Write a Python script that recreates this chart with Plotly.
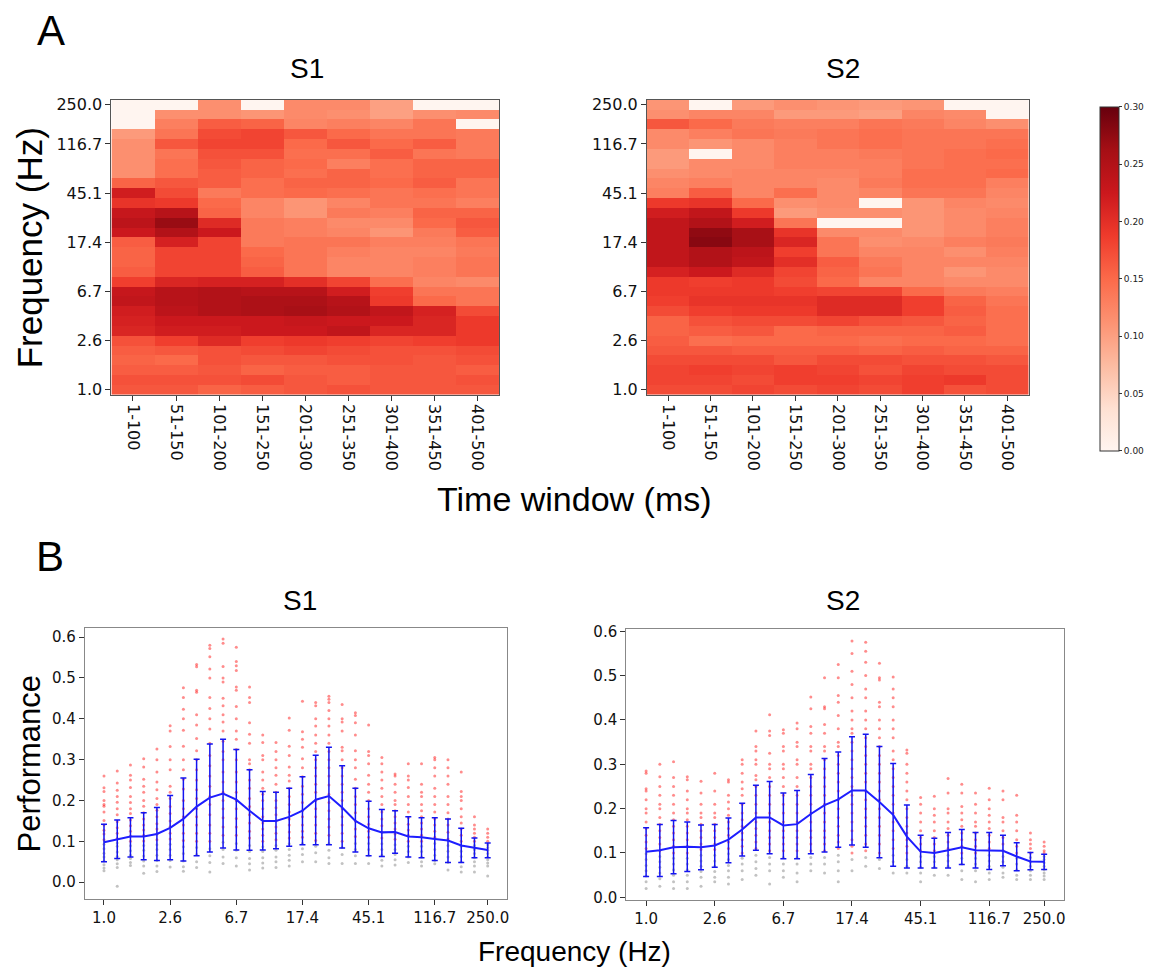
import plotly.graph_objects as go

W, H = 1155, 979

freq_labels = ["1.0", "2.6", "6.7", "17.4", "45.1", "116.7", "250.0"]
freq_tick_idx = [0, 5, 10, 15, 20, 25, 29]
time_windows = ["1-100", "51-150", "101-200", "151-250", "201-300",
                "251-350", "301-400", "351-450", "401-500"]

# Heatmap values, rows listed from the top (250 Hz) down to 1 Hz
s1_heat = [
    [0.000, 0.000, 0.115, 0.000, 0.120, 0.120, 0.100, 0.000, 0.000],
    [0.000, 0.115, 0.115, 0.110, 0.120, 0.115, 0.100, 0.115, 0.120],
    [0.000, 0.130, 0.160, 0.155, 0.125, 0.130, 0.125, 0.140, 0.000],
    [0.105, 0.140, 0.175, 0.180, 0.165, 0.150, 0.140, 0.140, 0.135],
    [0.115, 0.165, 0.180, 0.180, 0.150, 0.165, 0.150, 0.160, 0.135],
    [0.115, 0.140, 0.170, 0.170, 0.145, 0.145, 0.160, 0.140, 0.135],
    [0.115, 0.145, 0.165, 0.155, 0.150, 0.130, 0.145, 0.155, 0.155],
    [0.115, 0.145, 0.160, 0.155, 0.145, 0.155, 0.145, 0.155, 0.155],
    [0.155, 0.165, 0.160, 0.145, 0.155, 0.155, 0.150, 0.160, 0.140],
    [0.220, 0.175, 0.135, 0.145, 0.150, 0.145, 0.140, 0.145, 0.140],
    [0.195, 0.190, 0.150, 0.125, 0.110, 0.125, 0.140, 0.140, 0.130],
    [0.230, 0.245, 0.155, 0.125, 0.110, 0.135, 0.130, 0.155, 0.155],
    [0.240, 0.270, 0.205, 0.135, 0.130, 0.120, 0.120, 0.150, 0.165],
    [0.225, 0.250, 0.225, 0.135, 0.130, 0.125, 0.110, 0.135, 0.160],
    [0.160, 0.215, 0.180, 0.135, 0.140, 0.140, 0.130, 0.130, 0.140],
    [0.155, 0.180, 0.180, 0.150, 0.140, 0.130, 0.125, 0.125, 0.135],
    [0.155, 0.180, 0.180, 0.155, 0.140, 0.125, 0.125, 0.130, 0.140],
    [0.160, 0.180, 0.180, 0.160, 0.140, 0.125, 0.125, 0.130, 0.140],
    [0.185, 0.210, 0.215, 0.215, 0.200, 0.180, 0.145, 0.125, 0.120],
    [0.230, 0.245, 0.250, 0.245, 0.245, 0.220, 0.185, 0.140, 0.140],
    [0.235, 0.245, 0.250, 0.255, 0.255, 0.245, 0.190, 0.150, 0.140],
    [0.220, 0.240, 0.250, 0.255, 0.260, 0.250, 0.235, 0.215, 0.175],
    [0.215, 0.225, 0.225, 0.225, 0.230, 0.225, 0.225, 0.210, 0.190],
    [0.210, 0.220, 0.220, 0.225, 0.225, 0.235, 0.210, 0.210, 0.190],
    [0.170, 0.185, 0.205, 0.185, 0.190, 0.185, 0.180, 0.185, 0.190],
    [0.160, 0.165, 0.170, 0.175, 0.180, 0.175, 0.170, 0.170, 0.175],
    [0.155, 0.150, 0.170, 0.165, 0.165, 0.170, 0.170, 0.165, 0.170],
    [0.160, 0.160, 0.165, 0.155, 0.160, 0.160, 0.165, 0.165, 0.160],
    [0.170, 0.170, 0.170, 0.175, 0.165, 0.160, 0.165, 0.165, 0.170],
    [0.165, 0.165, 0.155, 0.160, 0.165, 0.170, 0.165, 0.165, 0.165],
]

s2_heat = [
    [0.110, 0.000, 0.105, 0.115, 0.110, 0.105, 0.110, 0.000, 0.000],
    [0.115, 0.125, 0.125, 0.105, 0.105, 0.100, 0.125, 0.120, 0.000],
    [0.165, 0.150, 0.135, 0.130, 0.130, 0.140, 0.135, 0.125, 0.115],
    [0.120, 0.130, 0.140, 0.135, 0.140, 0.145, 0.140, 0.140, 0.140],
    [0.120, 0.110, 0.120, 0.130, 0.140, 0.145, 0.140, 0.140, 0.145],
    [0.105, 0.000, 0.120, 0.130, 0.130, 0.135, 0.140, 0.145, 0.150],
    [0.105, 0.120, 0.120, 0.130, 0.130, 0.130, 0.140, 0.145, 0.145],
    [0.115, 0.120, 0.125, 0.125, 0.125, 0.130, 0.145, 0.145, 0.150],
    [0.125, 0.130, 0.125, 0.125, 0.120, 0.135, 0.145, 0.145, 0.130],
    [0.130, 0.160, 0.125, 0.145, 0.120, 0.125, 0.140, 0.140, 0.125],
    [0.190, 0.195, 0.150, 0.115, 0.120, 0.000, 0.110, 0.125, 0.120],
    [0.220, 0.235, 0.190, 0.105, 0.115, 0.115, 0.110, 0.120, 0.125],
    [0.235, 0.250, 0.220, 0.140, 0.000, 0.000, 0.110, 0.120, 0.130],
    [0.235, 0.275, 0.260, 0.195, 0.120, 0.120, 0.110, 0.120, 0.130],
    [0.235, 0.280, 0.260, 0.210, 0.140, 0.115, 0.120, 0.130, 0.135],
    [0.235, 0.250, 0.240, 0.185, 0.140, 0.125, 0.125, 0.115, 0.130],
    [0.235, 0.250, 0.235, 0.200, 0.160, 0.135, 0.125, 0.125, 0.125],
    [0.215, 0.225, 0.205, 0.180, 0.155, 0.140, 0.125, 0.110, 0.120],
    [0.190, 0.185, 0.190, 0.175, 0.150, 0.125, 0.125, 0.120, 0.120],
    [0.190, 0.190, 0.190, 0.185, 0.180, 0.180, 0.150, 0.135, 0.130],
    [0.185, 0.195, 0.195, 0.195, 0.205, 0.205, 0.185, 0.155, 0.140],
    [0.175, 0.185, 0.190, 0.190, 0.205, 0.205, 0.185, 0.160, 0.145],
    [0.155, 0.170, 0.175, 0.175, 0.180, 0.170, 0.165, 0.155, 0.145],
    [0.155, 0.160, 0.165, 0.150, 0.155, 0.155, 0.155, 0.160, 0.145],
    [0.160, 0.145, 0.150, 0.150, 0.150, 0.145, 0.150, 0.150, 0.145],
    [0.165, 0.165, 0.160, 0.160, 0.160, 0.155, 0.160, 0.155, 0.155],
    [0.175, 0.175, 0.175, 0.165, 0.175, 0.175, 0.170, 0.170, 0.165],
    [0.180, 0.185, 0.180, 0.185, 0.180, 0.170, 0.180, 0.175, 0.175],
    [0.180, 0.180, 0.175, 0.185, 0.185, 0.180, 0.185, 0.190, 0.175],
    [0.175, 0.175, 0.180, 0.175, 0.180, 0.175, 0.185, 0.170, 0.175],
]

# Panel B: mean performance per frequency bin and error-bar ends
s1_mean = [0.098, 0.105, 0.112, 0.112, 0.118, 0.133, 0.155, 0.185, 0.207, 0.217,
           0.202, 0.175, 0.150, 0.150, 0.160, 0.175, 0.202, 0.211, 0.183, 0.150,
           0.132, 0.122, 0.123, 0.112, 0.110, 0.106, 0.102, 0.090, 0.084, 0.079]
s1_hi = [0.142, 0.152, 0.158, 0.170, 0.183, 0.212, 0.255, 0.301, 0.338, 0.350,
         0.325, 0.275, 0.222, 0.220, 0.230, 0.258, 0.311, 0.330, 0.285, 0.230,
         0.198, 0.178, 0.175, 0.160, 0.158, 0.158, 0.155, 0.132, 0.108, 0.096]
s1_lo = [0.050, 0.058, 0.062, 0.055, 0.053, 0.055, 0.052, 0.065, 0.074, 0.084,
         0.079, 0.078, 0.079, 0.082, 0.088, 0.092, 0.092, 0.092, 0.084, 0.074,
         0.065, 0.063, 0.071, 0.062, 0.060, 0.053, 0.048, 0.048, 0.060, 0.060]

s2_mean = [0.103, 0.106, 0.113, 0.114, 0.113, 0.117, 0.130, 0.153, 0.180, 0.180,
           0.162, 0.165, 0.188, 0.208, 0.221, 0.241, 0.241, 0.215, 0.186, 0.137,
           0.103, 0.100, 0.106, 0.113, 0.106, 0.105, 0.105, 0.092, 0.081, 0.080]
s2_hi = [0.157, 0.164, 0.173, 0.170, 0.163, 0.164, 0.179, 0.212, 0.253, 0.261,
         0.235, 0.241, 0.277, 0.313, 0.328, 0.362, 0.368, 0.340, 0.302, 0.208,
         0.140, 0.133, 0.146, 0.153, 0.146, 0.146, 0.140, 0.123, 0.101, 0.097]
s2_lo = [0.047, 0.047, 0.053, 0.058, 0.062, 0.068, 0.078, 0.093, 0.106, 0.098,
         0.087, 0.087, 0.098, 0.102, 0.113, 0.118, 0.113, 0.089, 0.070, 0.066,
         0.066, 0.066, 0.066, 0.074, 0.066, 0.063, 0.071, 0.060, 0.062, 0.063]

# Individual performance values (dots) per frequency bin
s1_dots = [
    [0.26, 0.231, 0.222, 0.2, 0.19, 0.186, 0.172, 0.151, 0.14, 0.127, 0.118, 0.104, 0.093, 0.082, 0.071, 0.062, 0.052, 0.043, 0.035, 0.028],
    [0.272, 0.243, 0.225, 0.21, 0.196, 0.18, 0.165, 0.148, 0.133, 0.12, 0.107, 0.096, 0.088, 0.074, 0.063, 0.055, 0.045, 0.036, -0.01],
    [0.287, 0.262, 0.25, 0.232, 0.21, 0.195, 0.18, 0.168, 0.152, 0.138, 0.125, 0.113, 0.1, 0.089, 0.077, 0.066, 0.058, 0.048, 0.041],
    [0.302, 0.282, 0.252, 0.235, 0.22, 0.2, 0.186, 0.17, 0.155, 0.14, 0.128, 0.115, 0.101, 0.09, 0.078, 0.064, 0.052, 0.04, 0.022],
    [0.326, 0.3, 0.27, 0.245, 0.226, 0.205, 0.19, 0.176, 0.16, 0.143, 0.13, 0.118, 0.104, 0.092, 0.08, 0.066, 0.053, 0.04, 0.026],
    [0.383, 0.37, 0.332, 0.3, 0.275, 0.235, 0.22, 0.205, 0.185, 0.168, 0.15, 0.136, 0.12, 0.106, 0.093, 0.08, 0.066, 0.053, 0.037],
    [0.476, 0.452, 0.423, 0.4, 0.372, 0.333, 0.3, 0.275, 0.252, 0.228, 0.2, 0.18, 0.16, 0.14, 0.12, 0.102, 0.087, 0.07, 0.052, 0.038, 0.027],
    [0.533, 0.527, 0.47, 0.465, 0.41, 0.385, 0.352, 0.322, 0.3, 0.275, 0.25, 0.226, 0.205, 0.18, 0.16, 0.14, 0.12, 0.1, 0.085, 0.068, 0.05, 0.036],
    [0.58, 0.572, 0.552, 0.522, 0.5, 0.452, 0.425, 0.4, 0.375, 0.34, 0.31, 0.285, 0.26, 0.235, 0.21, 0.19, 0.165, 0.14, 0.12, 0.1, 0.082, 0.065, 0.048, 0.025],
    [0.595, 0.585, 0.528, 0.5, 0.49, 0.45, 0.432, 0.41, 0.392, 0.37, 0.345, 0.32, 0.3, 0.27, 0.245, 0.22, 0.2, 0.18, 0.158, 0.135, 0.115, 0.098, 0.08, 0.062, 0.046],
    [0.575, 0.54, 0.53, 0.518, 0.478, 0.47, 0.43, 0.4, 0.37, 0.35, 0.325, 0.3, 0.27, 0.245, 0.22, 0.2, 0.18, 0.156, 0.135, 0.115, 0.095, 0.078, 0.06, 0.04],
    [0.478, 0.452, 0.44, 0.39, 0.362, 0.34, 0.3, 0.29, 0.275, 0.25, 0.23, 0.205, 0.185, 0.165, 0.145, 0.125, 0.108, 0.09, 0.075, 0.058, 0.045, 0.03],
    [0.36, 0.342, 0.31, 0.3, 0.27, 0.25, 0.23, 0.215, 0.2, 0.18, 0.16, 0.145, 0.13, 0.115, 0.1, 0.087, 0.075, 0.06, 0.047, 0.035],
    [0.342, 0.32, 0.3, 0.28, 0.262, 0.24, 0.22, 0.2, 0.182, 0.165, 0.15, 0.135, 0.12, 0.104, 0.09, 0.078, 0.062, 0.05, 0.036],
    [0.402, 0.372, 0.333, 0.31, 0.282, 0.262, 0.248, 0.23, 0.21, 0.19, 0.172, 0.155, 0.14, 0.123, 0.108, 0.094, 0.08, 0.066, 0.054, 0.04],
    [0.443, 0.368, 0.35, 0.33, 0.302, 0.28, 0.258, 0.235, 0.215, 0.195, 0.175, 0.16, 0.14, 0.125, 0.11, 0.095, 0.082, 0.068, 0.05],
    [0.44, 0.432, 0.4, 0.382, 0.36, 0.34, 0.32, 0.3, 0.28, 0.26, 0.24, 0.22, 0.2, 0.18, 0.16, 0.14, 0.12, 0.102, 0.088, 0.072, 0.05],
    [0.455, 0.448, 0.44, 0.42, 0.4, 0.382, 0.36, 0.34, 0.32, 0.3, 0.28, 0.26, 0.238, 0.215, 0.195, 0.175, 0.155, 0.135, 0.115, 0.095, 0.078, 0.06, 0.046],
    [0.435, 0.4, 0.392, 0.37, 0.33, 0.322, 0.3, 0.28, 0.26, 0.24, 0.22, 0.2, 0.18, 0.16, 0.14, 0.12, 0.1, 0.085, 0.068, 0.046],
    [0.415, 0.408, 0.39, 0.36, 0.322, 0.3, 0.28, 0.252, 0.23, 0.21, 0.19, 0.17, 0.15, 0.13, 0.112, 0.095, 0.08, 0.065, 0.046],
    [0.385, 0.32, 0.31, 0.29, 0.262, 0.24, 0.22, 0.2, 0.18, 0.16, 0.142, 0.125, 0.11, 0.095, 0.08, 0.065, 0.046],
    [0.305, 0.29, 0.27, 0.25, 0.23, 0.21, 0.19, 0.172, 0.155, 0.138, 0.122, 0.108, 0.094, 0.08, 0.066, 0.054, 0.04],
    [0.265, 0.26, 0.24, 0.22, 0.2, 0.19, 0.175, 0.16, 0.145, 0.13, 0.118, 0.105, 0.092, 0.08, 0.068, 0.055, 0.042],
    [0.29, 0.26, 0.25, 0.232, 0.21, 0.19, 0.172, 0.158, 0.142, 0.128, 0.115, 0.1, 0.088, 0.075, 0.062, 0.048],
    [0.29, 0.24, 0.22, 0.21, 0.19, 0.175, 0.16, 0.145, 0.13, 0.115, 0.1, 0.088, 0.075, 0.062, 0.05, 0.04],
    [0.305, 0.3, 0.28, 0.26, 0.23, 0.21, 0.19, 0.172, 0.155, 0.14, 0.125, 0.11, 0.095, 0.08, 0.066, 0.053, 0.045],
    [0.3, 0.28, 0.26, 0.24, 0.21, 0.19, 0.17, 0.155, 0.14, 0.122, 0.106, 0.09, 0.076, 0.062, 0.048, 0.03],
    [0.27, 0.222, 0.21, 0.2, 0.18, 0.16, 0.145, 0.13, 0.115, 0.1, 0.088, 0.076, 0.063, 0.05, 0.038, 0.025],
    [0.16, 0.14, 0.13, 0.12, 0.11, 0.1, 0.09, 0.08, 0.07, 0.06, 0.05, 0.04, 0.025],
    [0.13, 0.12, 0.11, 0.1, 0.092, 0.085, 0.078, 0.07, 0.062, 0.055, 0.047, 0.04, 0.015],
]

s2_dots = [
    [0.285, 0.28, 0.245, 0.24, 0.22, 0.2, 0.19, 0.17, 0.155, 0.14, 0.125, 0.11, 0.098, 0.085, 0.072, 0.06, 0.048, 0.035, 0.02],
    [0.3, 0.272, 0.25, 0.23, 0.21, 0.2, 0.18, 0.165, 0.15, 0.135, 0.12, 0.105, 0.092, 0.08, 0.068, 0.055, 0.042, 0.025],
    [0.306, 0.27, 0.25, 0.23, 0.21, 0.19, 0.175, 0.16, 0.145, 0.13, 0.115, 0.1, 0.088, 0.075, 0.062, 0.05, 0.035, 0.02],
    [0.272, 0.265, 0.24, 0.22, 0.2, 0.19, 0.175, 0.16, 0.145, 0.13, 0.115, 0.1, 0.088, 0.075, 0.062, 0.05, 0.035, 0.02],
    [0.262, 0.235, 0.21, 0.19, 0.18, 0.165, 0.15, 0.135, 0.12, 0.108, 0.095, 0.082, 0.07, 0.058, 0.045, 0.025],
    [0.28, 0.24, 0.21, 0.19, 0.18, 0.165, 0.15, 0.135, 0.12, 0.108, 0.095, 0.082, 0.07, 0.058, 0.045, 0.035],
    [0.265, 0.26, 0.23, 0.215, 0.2, 0.185, 0.17, 0.155, 0.14, 0.125, 0.11, 0.098, 0.085, 0.072, 0.06, 0.045, 0.03],
    [0.31, 0.3, 0.28, 0.26, 0.245, 0.23, 0.21, 0.19, 0.175, 0.16, 0.145, 0.13, 0.115, 0.1, 0.088, 0.075, 0.06, 0.04],
    [0.375, 0.34, 0.33, 0.31, 0.3, 0.275, 0.265, 0.25, 0.23, 0.21, 0.19, 0.17, 0.155, 0.14, 0.125, 0.11, 0.095, 0.08, 0.065, 0.05],
    [0.412, 0.375, 0.365, 0.325, 0.3, 0.29, 0.27, 0.25, 0.23, 0.21, 0.19, 0.17, 0.15, 0.135, 0.12, 0.105, 0.09, 0.075, 0.06, 0.03],
    [0.378, 0.37, 0.34, 0.33, 0.3, 0.29, 0.27, 0.25, 0.23, 0.21, 0.19, 0.17, 0.15, 0.135, 0.12, 0.105, 0.09, 0.075, 0.06, 0.045],
    [0.393, 0.38, 0.35, 0.34, 0.31, 0.3, 0.27, 0.25, 0.23, 0.21, 0.19, 0.17, 0.15, 0.135, 0.12, 0.105, 0.09, 0.075, 0.055, 0.035],
    [0.452, 0.425, 0.385, 0.37, 0.34, 0.33, 0.3, 0.29, 0.27, 0.25, 0.23, 0.21, 0.19, 0.17, 0.15, 0.135, 0.12, 0.105, 0.09, 0.075, 0.06],
    [0.495, 0.43, 0.425, 0.39, 0.37, 0.34, 0.33, 0.31, 0.29, 0.27, 0.25, 0.23, 0.21, 0.19, 0.17, 0.15, 0.135, 0.12, 0.105, 0.09, 0.075, 0.055],
    [0.525, 0.495, 0.455, 0.44, 0.41, 0.38, 0.35, 0.34, 0.32, 0.3, 0.28, 0.26, 0.24, 0.22, 0.2, 0.18, 0.16, 0.14, 0.125, 0.11, 0.095, 0.08, 0.06, 0.035],
    [0.578, 0.55, 0.51, 0.48, 0.45, 0.42, 0.4, 0.38, 0.37, 0.35, 0.33, 0.31, 0.29, 0.27, 0.25, 0.23, 0.21, 0.19, 0.17, 0.15, 0.13, 0.115, 0.1, 0.085, 0.06],
    [0.575, 0.555, 0.53, 0.5, 0.47, 0.45, 0.42, 0.4, 0.38, 0.36, 0.34, 0.32, 0.3, 0.28, 0.26, 0.24, 0.22, 0.2, 0.18, 0.16, 0.14, 0.12, 0.105, 0.09, 0.07],
    [0.528, 0.495, 0.49, 0.44, 0.43, 0.4, 0.38, 0.36, 0.34, 0.32, 0.3, 0.28, 0.26, 0.24, 0.22, 0.2, 0.18, 0.16, 0.14, 0.12, 0.1, 0.085, 0.065],
    [0.497, 0.47, 0.45, 0.43, 0.4, 0.38, 0.36, 0.33, 0.31, 0.29, 0.27, 0.25, 0.23, 0.21, 0.19, 0.17, 0.15, 0.13, 0.11, 0.095, 0.08, 0.055],
    [0.332, 0.325, 0.3, 0.28, 0.26, 0.24, 0.22, 0.2, 0.18, 0.16, 0.145, 0.13, 0.115, 0.1, 0.085, 0.07, 0.055],
    [0.225, 0.21, 0.19, 0.17, 0.15, 0.135, 0.12, 0.105, 0.092, 0.08, 0.068, 0.055, 0.035],
    [0.228, 0.2, 0.185, 0.17, 0.15, 0.135, 0.12, 0.105, 0.092, 0.08, 0.068, 0.05],
    [0.268, 0.235, 0.2, 0.19, 0.17, 0.155, 0.14, 0.125, 0.11, 0.095, 0.082, 0.07, 0.05],
    [0.255, 0.235, 0.205, 0.19, 0.175, 0.16, 0.145, 0.13, 0.115, 0.1, 0.088, 0.075, 0.06, 0.04],
    [0.235, 0.21, 0.19, 0.17, 0.16, 0.145, 0.13, 0.115, 0.1, 0.088, 0.075, 0.06, 0.035],
    [0.246, 0.22, 0.2, 0.185, 0.17, 0.155, 0.14, 0.125, 0.11, 0.095, 0.082, 0.07, 0.055, 0.04],
    [0.24, 0.22, 0.18, 0.17, 0.15, 0.135, 0.12, 0.105, 0.092, 0.08, 0.068, 0.055, 0.045],
    [0.23, 0.185, 0.17, 0.15, 0.13, 0.115, 0.1, 0.088, 0.075, 0.062, 0.05, 0.04],
    [0.145, 0.13, 0.12, 0.11, 0.1, 0.09, 0.08, 0.07, 0.06, 0.05, 0.04],
    [0.125, 0.115, 0.105, 0.1, 0.092, 0.085, 0.078, 0.07, 0.062, 0.055, 0.048, 0.04],
]

chance_level = 0.1

reds = [[0.0, "rgb(255,245,240)"], [0.125, "rgb(254,224,210)"], [0.25, "rgb(252,187,161)"],
        [0.375, "rgb(252,146,114)"], [0.5, "rgb(251,106,74)"], [0.625, "rgb(239,59,44)"],
        [0.75, "rgb(203,24,29)"], [0.875, "rgb(165,15,21)"], [1.0, "rgb(103,0,13)"]]


def px_x(x):
    return x / W


def px_y(y):
    return 1 - y / H


fig = go.Figure()
n_rows = len(s1_heat)
row_idx = list(range(n_rows - 1, -1, -1))

for k, (z, ax) in enumerate([(s1_heat, ""), (s2_heat, "2")]):
    fig.add_trace(go.Heatmap(
        z=z, x=list(range(len(time_windows))), y=row_idx,
        zmin=0, zmax=0.3, colorscale=reds,
        xaxis="x" + ax, yaxis="y" + ax,
        showscale=(k == 1),
        colorbar=dict(
            x=px_x(1105), xanchor="left", y=px_y(92), yanchor="top",
            len=(461 - 92) / H, lenmode="fraction", thickness=19,
            outlinewidth=1, outlinecolor="#333",
            tickvals=[0, 0.05, 0.1, 0.15, 0.2, 0.25, 0.3], tickformat=".2f",
            ticks="outside", ticklen=3, tickcolor="#333",
            tickfont=dict(family="DejaVu Sans", size=9, color="#222"),
        ),
        hoverinfo="skip",
    ))

for dots, mean, hi, lo, ax in [(s1_dots, s1_mean, s1_hi, s1_lo, "3"),
                               (s2_dots, s2_mean, s2_hi, s2_lo, "4")]:
    rx, ry, gx, gy = [], [], [], []
    for i, col in enumerate(dots):
        for v in col:
            if v >= chance_level:
                rx.append(i); ry.append(v)
            else:
                gx.append(i); gy.append(v)
    fig.add_trace(go.Scatter(x=gx, y=gy, mode="markers", xaxis="x" + ax, yaxis="y" + ax,
                             marker=dict(size=3, color="rgba(120,120,120,0.45)"),
                             showlegend=False, hoverinfo="skip"))
    fig.add_trace(go.Scatter(x=rx, y=ry, mode="markers", xaxis="x" + ax, yaxis="y" + ax,
                             marker=dict(size=3, color="rgba(255,0,0,0.45)"),
                             showlegend=False, hoverinfo="skip"))
    xs = list(range(len(mean)))
    fig.add_trace(go.Scatter(
        x=xs, y=mean, mode="lines", xaxis="x" + ax, yaxis="y" + ax,
        line=dict(color="rgb(30,30,255)", width=2),
        error_y=dict(type="data", symmetric=False,
                     array=[h - m for h, m in zip(hi, mean)],
                     arrayminus=[m - l for m, l in zip(mean, lo)],
                     color="rgb(20,20,240)", thickness=1.5, width=3),
        showlegend=False, hoverinfo="skip"))

tick_font_h = dict(family="DejaVu Sans", size=16, color="#111")
tick_font_b = dict(family="DejaVu Sans", size=15, color="#111")

heat_x = dict(tickmode="array", tickvals=list(range(len(time_windows))), ticktext=time_windows,
              tickangle=90, range=[-0.5, 8.5], ticks="outside", ticklen=5, tickcolor="#333",
              showline=True, linecolor="#555", linewidth=1, mirror=True, showgrid=False,
              zeroline=False, tickfont=tick_font_h)
heat_y = dict(tickmode="array", tickvals=freq_tick_idx, ticktext=freq_labels, range=[-0.5, 29.5],
              ticks="outside", ticklen=5, tickcolor="#333", showline=True, linecolor="#555",
              linewidth=1, mirror=True, showgrid=False, zeroline=False, tickfont=tick_font_h)
line_x = dict(tickmode="array", tickvals=freq_tick_idx, ticktext=freq_labels,
              range=[-1.45, 30.45], ticks="outside", ticklen=5, tickcolor="#333",
              showline=True, linecolor="#888", linewidth=1, mirror=True, showgrid=False,
              zeroline=False, tickfont=tick_font_b)
line_y = dict(tickmode="array", tickvals=[0, 0.1, 0.2, 0.3, 0.4, 0.5, 0.6], tickformat=".1f",
              ticks="outside", ticklen=5, tickcolor="#333", showline=True, linecolor="#888",
              linewidth=1, mirror=True, showgrid=False, zeroline=False, tickfont=tick_font_b)

fig.update_layout(
    width=W, height=H, margin=dict(l=0, r=0, t=0, b=0),
    paper_bgcolor="white", plot_bgcolor="white", showlegend=False,
    xaxis=dict(heat_x, domain=[px_x(113), px_x(506)], anchor="y"),
    yaxis=dict(heat_y, domain=[px_y(394), px_y(95)], anchor="x"),
    xaxis2=dict(heat_x, domain=[px_x(656), px_x(1043)], anchor="y2"),
    yaxis2=dict(heat_y, domain=[px_y(394), px_y(95)], anchor="x2"),
    xaxis3=dict(line_x, domain=[px_x(86), px_x(514)], anchor="y3"),
    yaxis3=dict(line_y, domain=[px_y(905), px_y(630)], anchor="x3", range=[-0.041, 0.623]),
    xaxis4=dict(line_x, domain=[px_x(635), px_x(1079)], anchor="y4"),
    yaxis4=dict(line_y, domain=[px_y(906), px_y(631)], anchor="x4", range=[-0.006, 0.606]),
)

sans = "Liberation Sans, Arial, sans-serif"


def label(text, x, y, size, angle=0):
    fig.add_annotation(text=text, x=px_x(x), y=px_y(y), xref="paper", yref="paper",
                       xanchor="center", yanchor="middle", showarrow=False, textangle=angle,
                       font=dict(family=sans, size=size, color="#000"))


label("A", 52, 25, 42)
label("B", 51, 558, 42)
label("S1", 311, 63, 28)
label("S2", 855, 63, 28)
label("S1", 304, 602, 28)
label("S2", 855, 602, 28)
label("Frequency (Hz)", 30, 245, 35, -90)
label("Time window (ms)", 583, 500, 34)
label("Performance", 30, 768, 31, -90)
label("Frequency (Hz)", 583, 958, 28)

fig.write_html("out.html", config={"displayModeBar": False},
               post_script="document.body.style.margin='0px';")
